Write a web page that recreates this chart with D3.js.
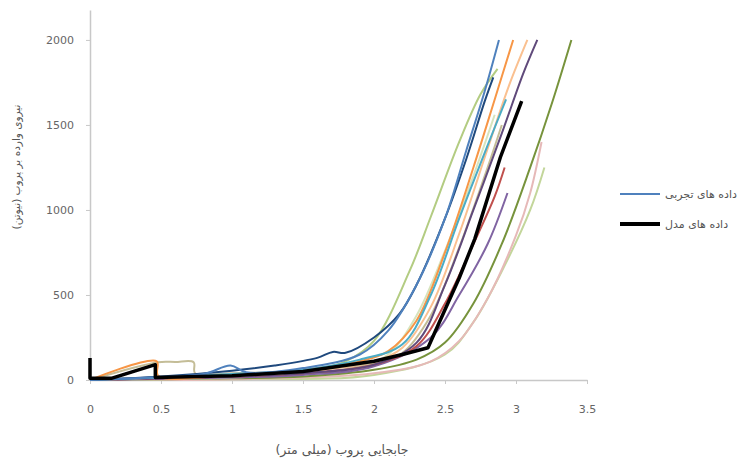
<!DOCTYPE html>
<html>
<head>
	<meta charset="utf-8">
	<title></title>
	<style>
		body { margin: 0; background: #fff; }
		text { font-family: "DejaVu Sans", sans-serif; }
	</style>
</head>
<body>

<svg id="chart" width="744" height="463"></svg>

<script src="https://d3js.org/d3.v7.min.js"></script>
<script>
	// -------------------------------------------------------------
	// Data: [displacement mm, force N]

	const xTicks = [0, 0.5, 1, 1.5, 2, 2.5, 3, 3.5]
	const yTicks = [0, 500, 1000, 1500, 2000]

	const xTitle = 'جابجایی پروب (میلی متر)'
	const yTitle = 'نیروی وارده بر پروب (نیوتن)'
	const legendNames = ['داده های تجربی', 'داده های مدل']

	// experimental runs
	const testBlue = [[0,0],[0.3,10],[0.8,35],[0.99,85],[1.1,45],[1.5,70],[1.9,150],[2.1,290],[2.3,560],[2.5,950],[2.65,1350],[2.78,1700],[2.88,2000]]
	const testNavy = [[0,0],[0.5,20],[1.0,55],[1.3,85],[1.6,130],[1.71,165],[1.8,160],[2.0,250],[2.18,390],[2.3,560],[2.5,950],[2.65,1300],[2.78,1640],[2.84,1780]]
	const testGreen = [[0,0],[0.5,10],[1,25],[1.5,50],[1.8,110],[2.0,230],[2.25,640],[2.4,960],[2.6,1400],[2.75,1680],[2.87,1830]]
	const testOrange = [[0,0],[0.47,110],[0.48,25],[1,30],[1.5,60],[1.9,110],[2.1,170],[2.3,350],[2.5,750],[2.7,1250],[2.85,1650],[2.98,2000]]
	const testSalmon = [[0,0],[0.5,15],[1,25],[1.5,50],[2.0,110],[2.2,190],[2.4,430],[2.6,860],[2.8,1360],[2.95,1730],[3.08,2000]]
	const testPurple = [[0,0],[0.5,10],[1,20],[1.5,40],[2.0,90],[2.3,220],[2.5,560],[2.7,1000],[2.9,1450],[3.05,1800],[3.15,2000]]
	const testOlive = [[0,0],[1,10],[1.5,20],[2,60],[2.3,120],[2.5,220],[2.7,450],[2.9,800],[3.1,1250],[3.25,1620],[3.39,2000]]
	const testTeal = [[0,0],[0.5,15],[1,35],[1.5,60],[1.9,120],[2.2,210],[2.4,500],[2.6,950],[2.8,1380],[2.93,1650]]
	const testRed = [[0,0],[0.5,10],[1,20],[1.5,40],[2.0,90],[2.3,200],[2.5,450],[2.7,800],[2.85,1080],[2.92,1250]]
	const testViolet = [[0,0],[1,15],[1.5,30],[2.0,80],[2.4,250],[2.6,500],[2.8,800],[2.94,1100]]
	const testPink = [[0,0],[1,5],[2,40],[2.4,110],[2.6,230],[2.8,480],[3.0,850],[3.1,1100],[3.18,1400]]
	const testSage = [[0,0],[1,5],[2,30],[2.5,150],[2.7,340],[2.9,640],[3.1,1000],[3.2,1250]]
	const testBeige = [[0,0],[0.48,105],[0.6,106],[0.73,105],[0.74,40],[1,40],[1.5,55],[2.0,100],[2.2,160],[2.4,380],[2.6,780],[2.8,1250],[2.9,1500]]
	const testLime = [[0,0],[0.5,5],[1,15],[1.5,35],[1.9,80],[2.1,150],[2.3,380],[2.5,760],[2.7,1200],[2.85,1560]]

	// model
	const model = [[0,130],[0,10],[0.15,10],[0.46,90],[0.46,15],[1.0,25],[1.5,50],[2.0,110],[2.2,150],[2.38,190],[2.45,320],[2.6,600],[2.71,830],[2.89,1310],[3.04,1640]]

	const tests = [testSage, testPink, testOlive, testLime, testBeige, testGreen, testViolet, testRed, testPurple, testSalmon, testOrange, testTeal, testNavy, testBlue]
	const testColors = ['#c3d69b', '#e6b9b8', '#77933c', '#d7e4bd', '#c4bd97', '#b3cc82', '#8064a2', '#c0504d', '#604a7b', '#fac090', '#f79646', '#4bacc6', '#1f497d', '#4f81bd']

	// -------------------------------------------------------------

	const svg = d3.select('#chart')
	const plotLeft = 90, plotRight = 587, plotTop = 10, plotBottom = 380

	const x = d3.scaleLinear().domain([0, 3.5]).range([plotLeft, plotRight])
	const y = d3.scaleLinear().domain([0, 2176]).range([plotBottom, plotTop])

	// axes
	const xAxis = svg.append('g')
		.attr('transform', `translate(0, ${plotBottom})`)
		.call(d3.axisBottom(x).tickValues(xTicks).tickFormat(d3.format('')).tickSizeInner(4).tickSizeOuter(0).tickPadding(21))
	const yAxis = svg.append('g')
		.attr('transform', `translate(${plotLeft}, 0)`)
		.call(d3.axisLeft(y).tickValues(yTicks).tickFormat(d3.format('d')).tickSizeInner(4).tickSizeOuter(0).tickPadding(12))

	;[xAxis, yAxis].forEach(a => {
		a.select('.domain').attr('stroke', '#c8c8c8').attr('stroke-width', 1.5)
		a.selectAll('.tick line').attr('stroke', '#c8c8c8')
		a.selectAll('.tick text').attr('fill', '#666').style('font-size', '11px')
			.style('font-family', '"DejaVu Sans", sans-serif')
	})

	// experimental lines
	const line = d3.line()
		.x(d => x(d[0]))
		.y(d => y(d[1]))
		.curve(d3.curveCatmullRom.alpha(0.5))

	svg.append('g')
		.selectAll('path')
		.data(tests)
		.enter()
		.append('path')
		.attr('d', line)
		.attr('fill', 'none')
		.attr('stroke', (d, i) => testColors[i])
		.attr('stroke-width', 2)
		.attr('stroke-linejoin', 'round')

	// model line (black, thick)
	svg.append('path')
		.datum(model)
		.attr('d', d3.line().x(d => x(d[0])).y(d => y(d[1])))
		.attr('fill', 'none')
		.attr('stroke', '#000')
		.attr('stroke-width', 3.5)
		.attr('stroke-linejoin', 'round')

	// axis titles
	svg.append('text')
		.text(xTitle)
		.attr('x', 342)
		.attr('y', 454)
		.attr('text-anchor', 'middle')
		.attr('fill', '#555')
		.style('font-size', '12.5px')

	svg.append('text')
		.text(yTitle)
		.attr('transform', 'translate(20, 167) rotate(-90)')
		.attr('text-anchor', 'middle')
		.attr('fill', '#555')
		.style('font-size', '10.5px')

	// legend
	const legend = svg.append('g')
		.selectAll('g')
		.data(legendNames)
		.enter()
		.append('g')
		.attr('transform', (d, i) => `translate(620, ${194 + i * 30})`)

	legend.append('line')
		.attr('x1', 0).attr('x2', 40)
		.attr('stroke', (d, i) => i === 0 ? '#4f81bd' : '#000')
		.attr('stroke-width', (d, i) => i === 0 ? 2 : 4)

	legend.append('text')
		.text(d => d)
		.attr('x', 45)
		.attr('dy', '0.35em')
		.attr('fill', '#555')
		.style('font-size', '11px')

</script>
</body>
</html>
